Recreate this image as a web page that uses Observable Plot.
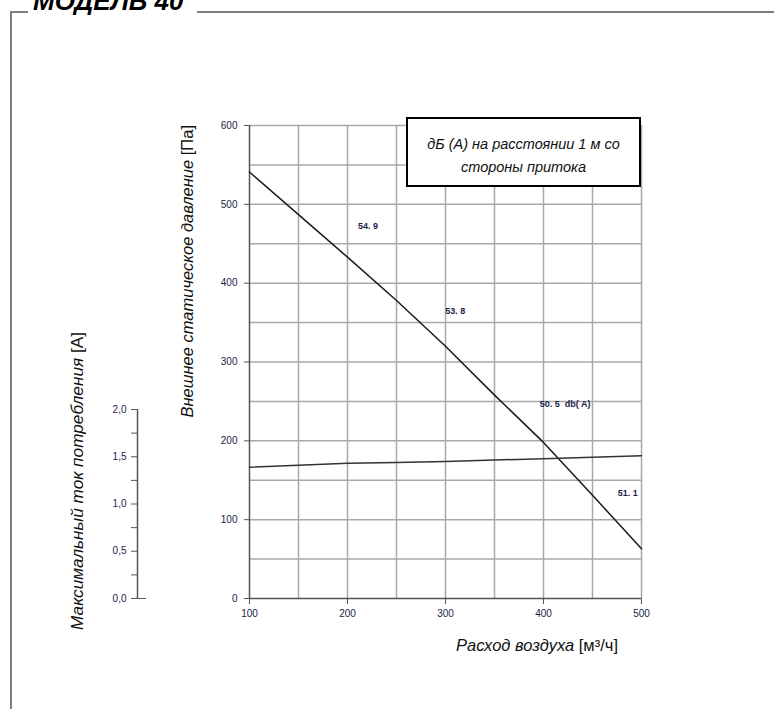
<!DOCTYPE html>
<html><head><meta charset="utf-8">
<script src="https://cdn.jsdelivr.net/npm/d3@7"></script>
<script src="https://cdn.jsdelivr.net/npm/@observablehq/plot@0.6"></script>
<style>
body{margin:0;background:#fff;}
#wrap{position:relative;width:774px;height:709px;overflow:hidden;background:#fff;font-family:"Liberation Sans",Arial,sans-serif;color:#111;}
#wrap svg{position:absolute;left:0;top:0;}
.frame{position:absolute;left:10px;top:11px;width:800px;height:720px;border-left:2.5px solid #7f7f7f;border-top:2.5px solid #7f7f7f;}
.title{position:absolute;left:28px;top:-12px;width:169px;height:26px;background:#fff;font:italic bold 26px "Liberation Sans",Arial,sans-serif;line-height:26px;padding-left:5px;box-sizing:border-box;white-space:nowrap;color:#000;}
.legend{position:absolute;left:406px;top:117px;width:235px;height:70px;box-sizing:border-box;border:2px solid #000;background:#fff;font-style:italic;font-size:14.5px;line-height:23px;text-align:center;padding-top:14px;color:#111;}
.vlab{position:absolute;white-space:nowrap;font-size:16.5px;line-height:18px;transform-origin:0 0;transform:rotate(-90deg) translate(-100%,-50%);color:#111;}
.vlabc{position:absolute;white-space:nowrap;font-size:17.2px;line-height:18px;transform:translate(-50%,-50%) rotate(-90deg);color:#111;}
.xlab{position:absolute;white-space:nowrap;font-size:16.5px;line-height:18px;transform:translate(-50%,-50%);color:#111;}
.i{font-style:italic}
</style></head>
<body><div id="wrap"></div>
<script>
// Airflow (m³/h) and external static pressure (Pa)
const airflow = [100, 150, 200, 250, 300, 350, 400, 450, 500];
const pressure = [541, 487, 433, 378, 320, 258, 198, 131, 63];
// Max current draw (A), secondary axis
const current = [1.39, 1.41, 1.43, 1.44, 1.45, 1.465, 1.48, 1.495, 1.51];
// Noise annotations dB(A)
const noteX = [221, 310, 422, 486];
const noteY = [473, 365, 247, 134];
const noteText = ["54. 9", "53. 8", "50. 5\u00a0 db( A)", "51. 1"];
// Ticks
const xTicks = [100, 200, 300, 400, 500];
const xGrid = [150, 200, 250, 300, 350, 400, 450, 500];
const yTicks = [0, 100, 200, 300, 400, 500, 600];
const yGrid = [50, 100, 150, 200, 250, 300, 350, 400, 450, 500, 550, 600];
const aTicks = [0, 0.5, 1, 1.5, 2];
const aMinor = [0.25, 0.75, 1.25, 1.75];

const pData = airflow.map((x, i) => ({x, y: pressure[i]}));
const cData = airflow.map((x, i) => ({x, y: current[i]}));
const notes = noteX.map((x, i) => ({x, y: noteY[i], t: noteText[i]}));

const font = '"Liberation Sans", Arial, sans-serif';
const tickCol = "#1c1c48";
const axisCol = "#555";
const gridCol = "#a8a8a8";

const main = Plot.plot({
  width: 774, height: 709,
  marginLeft: 249, marginRight: 133, marginTop: 125, marginBottom: 111,
  x: {domain: [100, 500]},
  y: {domain: [0, 600]},
  style: {fontFamily: font, fontSize: "10px", background: "#fff", overflow: "visible"},
  marks: [
    Plot.gridX(xGrid, {stroke: gridCol, strokeOpacity: 1, strokeWidth: 1.5}),
    Plot.gridY(yGrid, {stroke: gridCol, strokeOpacity: 1, strokeWidth: 1.5}),
    Plot.ruleX([100], {stroke: axisCol, strokeWidth: 1.5}),
    Plot.ruleY([0], {stroke: axisCol, strokeWidth: 1.5}),
    Plot.axisY(yTicks, {tickSize: 5, tickPadding: 7, stroke: axisCol, fill: tickCol, label: null}),
    Plot.axisX(xTicks, {tickSize: 6, tickPadding: 5, stroke: axisCol, fill: tickCol, label: null}),
    Plot.line(pData, {x: "x", y: "y", stroke: "#1a1a1a", strokeWidth: 1.5}),
    Plot.text(notes, {x: "x", y: "y", text: "t", fontWeight: "bold", fontSize: 9, fill: tickCol})
  ]
});

const over = Plot.plot({
  width: 774, height: 709,
  marginLeft: 137, marginRight: 133, marginTop: 409, marginBottom: 111,
  x: {domain: [100, 500], range: [249, 641], axis: null},
  y: {domain: [0, 2]},
  style: {fontFamily: font, fontSize: "10px", background: "transparent", overflow: "visible"},
  marks: [
    Plot.ruleX([100], {dx: -112, stroke: axisCol, strokeWidth: 1.5}),
    Plot.axisY(aMinor, {tickSize: 6, tickFormat: () => "", stroke: axisCol, label: null}),
    Plot.axisY(aTicks, {tickSize: 6, tickPadding: 5, tickFormat: d => d.toFixed(1).replace(".", ","), stroke: axisCol, fill: tickCol, label: null}),
    Plot.axisY([0], {tickSize: -9, tickFormat: () => "", stroke: axisCol, label: null}),
    Plot.line(cData, {x: "x", y: "y", stroke: "#333", strokeWidth: 1.5})
  ]
});

const wrap = document.getElementById("wrap");
wrap.appendChild(main);
wrap.appendChild(over);
wrap.insertAdjacentHTML("beforeend", `
  <div class="frame"></div>
  <div class="title">МОДЕЛЬ 40</div>
  <div class="legend">дБ (А) на расстоянии 1 м со<br>стороны притока</div>
  <div class="vlab" style="left:187px;top:125px"><span class="i">Внешнее статическое давление </span>[Па]</div>
  <div class="vlabc" style="left:77px;top:481px"><span class="i">Максимальный ток потребления </span>[А]</div>
  <div class="xlab" style="left:537px;top:645px"><span class="i">Расход воздуха </span>[м³/ч]</div>
`);
</script>
</body></html>
